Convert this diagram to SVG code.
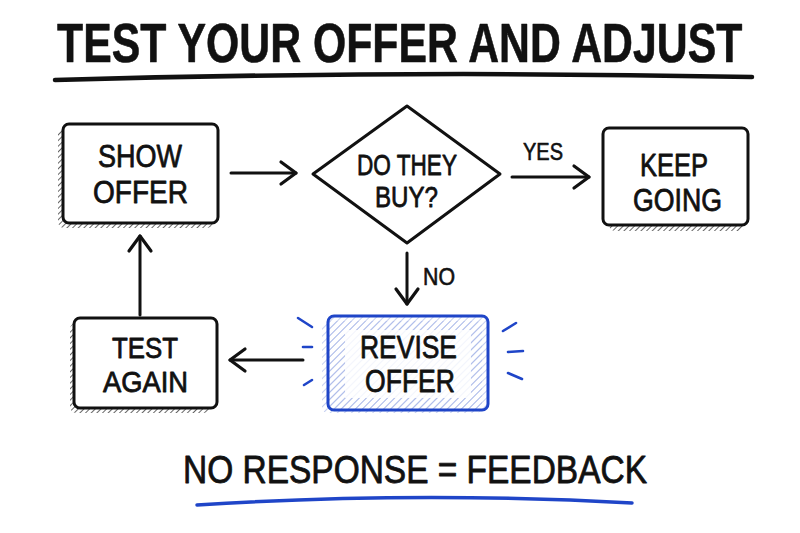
<svg xmlns="http://www.w3.org/2000/svg" width="800" height="533" viewBox="0 0 800 533">
<defs>
<style>
.t{font-family:"Liberation Sans",Arial,sans-serif;fill:#111;stroke:#111;stroke-width:0.8;stroke-linejoin:round;}
.title{font-size:55px;font-weight:bold;stroke-width:0.6;}
.node{font-size:32px;}
.lbl{font-size:24px;stroke-width:0.6;}
.box{fill:#fff;stroke:#111;stroke-width:3;}
.conn{fill:none;stroke:#111;stroke-width:3;stroke-linecap:round;}
.blue{stroke:#1f45c8;}
</style>
<pattern id="hatch" width="4" height="4" patternUnits="userSpaceOnUse" patternTransform="rotate(45)">
<line x1="0" y1="0" x2="0" y2="4" stroke="#333" stroke-width="1.5"/>
</pattern>
<pattern id="hatchb" width="5" height="5" patternUnits="userSpaceOnUse" patternTransform="rotate(45)">
<line x1="0" y1="0" x2="0" y2="5" stroke="#9fb0e6" stroke-width="1.2"/>
</pattern>
<marker id="arr" markerUnits="userSpaceOnUse" markerWidth="24" markerHeight="28" refX="17" refY="12" orient="auto" overflow="visible">
<path d="M2,1 L17,12 L2,23" fill="none" stroke="#111" stroke-width="3.2" stroke-linecap="round" stroke-linejoin="round"/>
</marker>
</defs>
<rect width="800" height="533" fill="#fff"/>

<g id="title">
<text class="t title" transform="translate(57,62) scale(0.778,1)" x="0" y="0">TEST YOUR OFFER AND ADJUST</text>
<path d="M55,80 Q400,70 752,77" fill="none" stroke="#111" stroke-width="4.5" stroke-linecap="round"/>
</g>

<g id="show-offer">
<rect x="58" y="128" width="155" height="100" rx="6" fill="url(#hatch)"/>
<rect x="63" y="124" width="155" height="99" rx="6" class="box"/>
<text class="t node" x="98" y="167" textLength="84" lengthAdjust="spacingAndGlyphs">SHOW</text>
<text class="t node" x="93" y="203" textLength="95" lengthAdjust="spacingAndGlyphs">OFFER</text>
</g>

<g id="do-they-buy">
<polygon points="407,106 500,174 407,243 313,174" fill="#fff" stroke="#111" stroke-width="3" stroke-linejoin="round"/>
<text class="t" style="font-size:30px" x="357" y="175" textLength="100" lengthAdjust="spacingAndGlyphs">DO THEY</text>
<text class="t" style="font-size:30px" x="375" y="207" textLength="63" lengthAdjust="spacingAndGlyphs">BUY?</text>
</g>

<g id="keep-going">
<rect x="609" y="133" width="136" height="98" rx="6" fill="url(#hatch)"/>
<rect x="603" y="128" width="145" height="97" rx="6" class="box"/>
<text class="t" style="font-size:31px" x="640" y="176" textLength="68" lengthAdjust="spacingAndGlyphs">KEEP</text>
<text class="t" style="font-size:31px" x="633" y="211" textLength="89" lengthAdjust="spacingAndGlyphs">GOING</text>
</g>

<g id="revise-offer">
<rect x="322" y="321" width="160" height="92" rx="6" fill="url(#hatchb)"/>
<rect x="328" y="316" width="160" height="94" rx="6" fill="url(#hatchb)" stroke="#1f45c8" stroke-width="3"/>
<rect x="345" y="330" width="126" height="68" fill="#fff" opacity="0.85"/>
<text class="t" style="font-size:32px" x="360" y="358" textLength="97" lengthAdjust="spacingAndGlyphs">REVISE</text>
<text class="t" style="font-size:32px" x="365" y="392" textLength="90" lengthAdjust="spacingAndGlyphs">OFFER</text>
<g class="conn blue" style="stroke-width:2.6">
<line x1="298" y1="318" x2="312" y2="327"/>
<line x1="303" y1="347" x2="312" y2="347"/>
<line x1="304" y1="385" x2="312" y2="380"/>
<line x1="503" y1="331" x2="516" y2="323"/>
<line x1="508" y1="352" x2="523" y2="351"/>
<line x1="508" y1="373" x2="522" y2="379"/>
</g>
</g>

<g id="test-again">
<rect x="70" y="323" width="140" height="90" rx="6" fill="url(#hatch)"/>
<rect x="74" y="318" width="143" height="90" rx="6" class="box"/>
<text class="t" style="font-size:30px" x="112" y="358" textLength="66" lengthAdjust="spacingAndGlyphs">TEST</text>
<text class="t" style="font-size:30px" x="103" y="392" textLength="85" lengthAdjust="spacingAndGlyphs">AGAIN</text>
</g>

<g id="connectors">
<line class="conn" x1="231" y1="173" x2="296" y2="173" marker-end="url(#arr)"/>
<line class="conn" x1="512" y1="177" x2="589" y2="177" marker-end="url(#arr)"/>
<text class="t lbl" x="523" y="160" textLength="40" lengthAdjust="spacingAndGlyphs">YES</text>
<line class="conn" x1="407" y1="253" x2="407" y2="304" marker-end="url(#arr)"/>
<text class="t lbl" x="423" y="285" textLength="32" lengthAdjust="spacingAndGlyphs">NO</text>
<line class="conn" x1="303" y1="360" x2="230" y2="360" marker-end="url(#arr)"/>
<line class="conn" x1="140" y1="315" x2="140" y2="236" marker-end="url(#arr)"/>
</g>

<g id="footer">
<text class="t" style="font-size:38px" x="183" y="483" textLength="464" lengthAdjust="spacingAndGlyphs">NO RESPONSE = FEEDBACK</text>
<path d="M197,505 Q415,491 632,503" fill="none" stroke="#1f45c8" stroke-width="3.5" stroke-linecap="round"/>
</g>
</svg>
